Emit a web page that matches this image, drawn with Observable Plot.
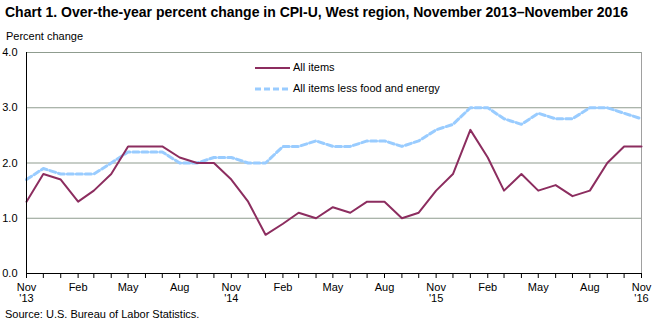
<!DOCTYPE html>
<html>
<head>
<meta charset="utf-8">
<script src="https://cdn.jsdelivr.net/npm/d3@7"></script>
<script src="https://cdn.jsdelivr.net/npm/@observablehq/plot@0.6"></script>
<style>
  body { margin: 0; background: #fff; font-family: "Liberation Sans Narrow", "Liberation Sans", Arial, sans-serif; }
  #wrap { position: relative; width: 659px; height: 326px; overflow: hidden; }
  .t { position: absolute; white-space: nowrap; color: #000; }
  #title { left: 5px; top: 4px; font-size: 14px; font-weight: bold; }
  #ylab { left: 6px; top: 30px; font-size: 11px; }
  #source { left: 5px; top: 308px; font-size: 11px; }
  #chart { position: absolute; left: 0; top: 0; }
  .leg { position: absolute; font-size: 11px; }
</style>
</head>
<body>
<div id="wrap">
  <div id="chart"></div>
  <div class="t" id="title">Chart 1. Over-the-year percent change in CPI-U, West region, November 2013–November 2016</div>
  <div class="t" id="ylab">Percent change</div>
  <div class="t" id="source">Source: U.S. Bureau of Labor Statistics.</div>
</div>
<script>
const months = ["2013-11","2013-12","2014-01","2014-02","2014-03","2014-04","2014-05","2014-06","2014-07","2014-08","2014-09","2014-10","2014-11",
  "2014-12","2015-01","2015-02","2015-03","2015-04","2015-05","2015-06","2015-07","2015-08","2015-09","2015-10","2015-11",
  "2015-12","2016-01","2016-02","2016-03","2016-04","2016-05","2016-06","2016-07","2016-08","2016-09","2016-10","2016-11"];
const allItems = [1.3,1.8,1.7,1.3,1.5,1.8,2.3,2.3,2.3,2.1,2.0,2.0,1.7,
  1.3,0.7,0.9,1.1,1.0,1.2,1.1,1.3,1.3,1.0,1.1,1.5,
  1.8,2.6,2.1,1.5,1.8,1.5,1.6,1.4,1.5,2.0,2.3,2.3];
const coreItems = [1.7,1.9,1.8,1.8,1.8,2.0,2.2,2.2,2.2,2.0,2.0,2.1,2.1,
  2.0,2.0,2.3,2.3,2.4,2.3,2.3,2.4,2.4,2.3,2.4,2.6,
  2.7,3.0,3.0,2.8,2.7,2.9,2.8,2.8,3.0,3.0,2.9,2.8];
const seriesNames = ["All items", "All items less food and energy"];
const yTicks = [0, 1, 2, 3, 4];
const labeledMonths = {10: "Nov", 1: "Feb", 4: "May", 7: "Aug"};

const parse = d3.utcParse("%Y-%m");
const dates = months.map(parse);
const all = dates.map((d, i) => ({date: d, value: allItems[i]}));
const core = dates.map((d, i) => ({date: d, value: coreItems[i]}));

const colAll = "#8c2d5f";
const colCore = "#99ccff";
const font = '"Liberation Sans Narrow", "Liberation Sans", Arial, sans-serif';

const mL = 26, mR = 18, mT = 52, mB = 53, W = 659, H = 326;

const fmtTick = d => {
  const m = d.getUTCMonth();
  if (!(m in labeledMonths)) return "";
  if (m === 10) return "Nov\n'" + String(d.getUTCFullYear()).slice(2);
  return labeledMonths[m];
};

const plot = Plot.plot({
  width: W, height: H,
  marginLeft: mL, marginRight: mR, marginTop: mT, marginBottom: mB,
  style: {fontFamily: font, fontSize: "11px", color: "#000", background: "transparent", overflow: "visible"},
  x: {type: "utc", domain: [dates[0], dates[dates.length - 1]]},
  y: {domain: [0, 4]},
  marks: [
    Plot.ruleY(yTicks.filter(v => v > 0), {stroke: "#8f9c8f", strokeWidth: 1}),
    Plot.ruleX([dates[dates.length - 1]], {stroke: "#a0a0a0", strokeWidth: 1}),
    Plot.line(core, {x: "date", y: "value", stroke: colCore, strokeWidth: 3, strokeDasharray: "6,3"}),
    Plot.line(all, {x: "date", y: "value", stroke: colAll, strokeWidth: 2}),
    Plot.axisY({ticks: yTicks, tickFormat: d3.format(".1f"), tickSize: 0, tickPadding: 9, label: null, fontSize: 11}),
    Plot.ruleX([dates[0]], {stroke: "#000", strokeWidth: 1}),
    Plot.axisX({ticks: dates, tickFormat: fmtTick, tickSize: 5, tickPadding: 4, label: null, stroke: "#000", fontSize: 11, lineHeight: 1.05}),
    Plot.ruleY([0], {stroke: "#000", strokeWidth: 1})
  ]
});
document.getElementById("chart").appendChild(plot);

// legend
const wrap = document.getElementById("wrap");
const legY = [68, 89];
const legStyles = [
  {stroke: colAll, width: 2, dash: null},
  {stroke: colCore, width: 3, dash: "6,3"}
];
seriesNames.forEach((name, i) => {
  const svg = d3.create("svg").attr("width", 36).attr("height", 6)
    .style("position", "absolute").style("left", "255px").style("top", (legY[i] - 3) + "px");
  svg.append("line").attr("x1", 0).attr("x2", 35).attr("y1", 3).attr("y2", 3)
    .attr("stroke", legStyles[i].stroke).attr("stroke-width", legStyles[i].width)
    .attr("stroke-dasharray", legStyles[i].dash);
  wrap.appendChild(svg.node());
  const t = document.createElement("div");
  t.className = "t leg";
  t.style.left = "293px";
  t.style.top = (legY[i] - 7) + "px";
  t.textContent = name;
  wrap.appendChild(t);
});
</script>
</body>
</html>
